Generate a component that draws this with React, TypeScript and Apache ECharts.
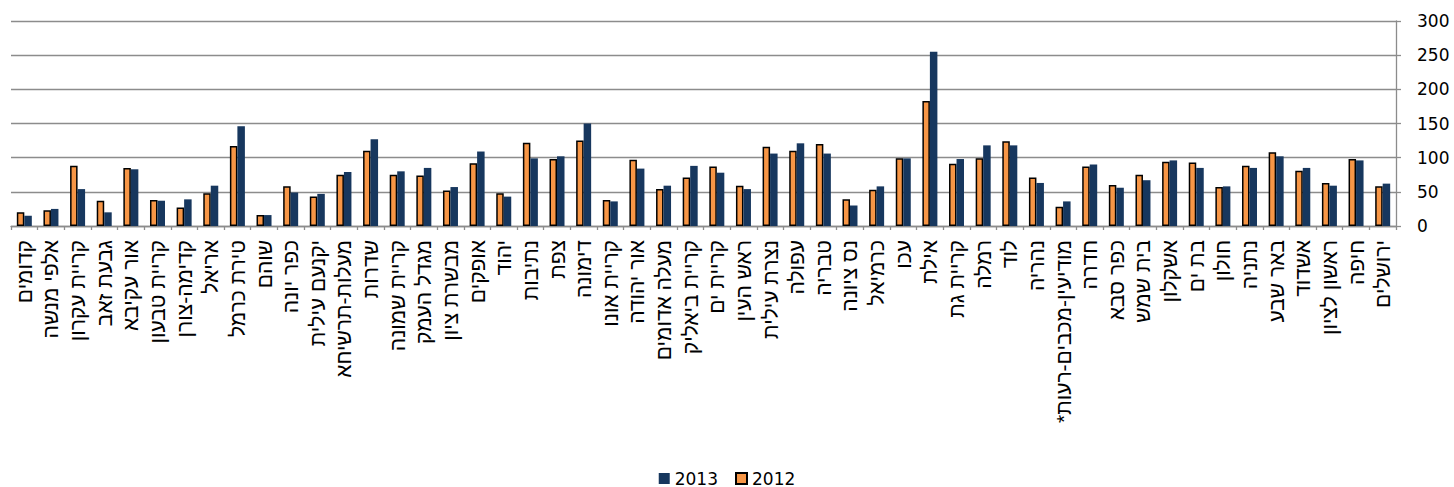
import React, { useEffect, useRef } from "react";
import * as echarts from "echarts";

const cities = [
  "קדומים", "אלפי מנשה", "קריית עקרון", "גבעת זאב", "אור עקיבא", "קריית טבעון",
  "קדימה-צורן", "אריאל", "טירת כרמל", "שוהם", "כפר יונה", "יקנעם עילית",
  "מעלות-תרשיחא", "שדרות", "קריית שמונה", "מגדל העמק", "מבשרת ציון", "אופקים",
  "יהוד", "נתיבות", "צפת", "דימונה", "קריית אונו", "אור יהודה", "מעלה אדומים",
  "קריית ביאליק", "קריית ים", "ראש העין", "נצרת עילית", "עפולה", "טבריה",
  "נס ציונה", "כרמיאל", "עכו", "אילת", "קריית גת", "רמלה", "לוד", "נהריה",
  "מודיעין-מכבים-רעות*", "חדרה", "כפר סבא", "בית שמש", "אשקלון", "בת ים",
  "חולון", "נתניה", "באר שבע", "אשדוד", "ראשון לציון", "חיפה", "ירושלים",
];

const values2012 = [
  20, 23, 88, 37, 85, 38, 27, 48, 117, 16,
  58, 43, 75, 110, 75, 74, 52, 92, 48, 122,
  98, 125, 38, 97, 54, 71, 87, 59, 116, 110,
  120, 39, 53, 99, 183, 91, 99, 124, 71, 28,
  87, 60, 75, 94, 93, 57, 88, 108, 81, 63,
  98, 58,
];

const values2013 = [
  15, 25, 54, 20, 83, 37, 39, 59, 146, 16,
  49, 47, 79, 127, 80, 85, 57, 109, 43, 99,
  102, 150, 36, 84, 59, 88, 78, 54, 106, 121,
  106, 30, 58, 99, 255, 98, 118, 118, 63, 36,
  90, 56, 67, 96, 85, 58, 85, 102, 85, 59,
  96, 62,
];

const yTicks = [0, 50, 100, 150, 200, 250, 300];

const FONT = "DejaVu Sans";
const LABEL_FONT = "'Liberation Sans', 'DejaVu Sans', sans-serif";

export default function App() {
  const ref = useRef<HTMLDivElement>(null);

  useEffect(() => {
    if (!ref.current) return;
    const chart = echarts.init(ref.current, undefined, { renderer: "svg" });
    chart.setOption({
      animation: false,
      backgroundColor: "#ffffff",
      textStyle: { fontFamily: FONT },
      grid: { left: 11, right: 58, top: 21, bottom: 261, containLabel: false },
      legend: {
        data: ["2013", "2012"],
        top: 465,
        left: "center",
        itemWidth: 11,
        itemHeight: 11,
        itemGap: 17,
        icon: "rect",
        textStyle: { fontFamily: FONT, fontSize: 17, color: "#000" },
      },
      xAxis: {
        type: "category",
        data: cities.map((c) => c + "\u200F"),
        axisLine: { show: true, lineStyle: { color: "#8c8c8c", width: 1.3 } },
        axisTick: { show: true, length: 4, lineStyle: { color: "#8c8c8c", width: 1.3 } },
        axisLabel: {
          interval: 0,
          rotate: 90,
          margin: 14,
          fontFamily: LABEL_FONT,
          fontSize: 21,
          color: "#000",
        },
      },
      yAxis: {
        type: "value",
        position: "right",
        min: yTicks[0],
        max: yTicks[yTicks.length - 1],
        interval: 50,
        axisLine: { show: true, lineStyle: { color: "#8c8c8c", width: 1.3 } },
        axisTick: { show: true, length: 5, lineStyle: { color: "#8c8c8c", width: 1.3 } },
        splitLine: { show: true, lineStyle: { color: "#8c8c8c", width: 1.3 } },
        axisLabel: { margin: 21, fontFamily: FONT, fontSize: 17, color: "#000" },
      },
      series: [
        {
          name: "2012",
          type: "bar",
          data: values2012,
          barWidth: 7.5,
          barGap: "0%",
          itemStyle: { color: "#F79646", borderColor: "#000", borderWidth: 1.5 },
        },
        {
          name: "2013",
          type: "bar",
          data: values2013,
          barWidth: 7.5,
          barGap: "0%",
          itemStyle: { color: "#17375E" },
        },
      ],
    });
    return () => chart.dispose();
  }, []);

  return (
    <div
      ref={ref}
      style={{ position: "fixed", left: 0, top: 0, width: 1454, height: 487 }}
    />
  );
}
